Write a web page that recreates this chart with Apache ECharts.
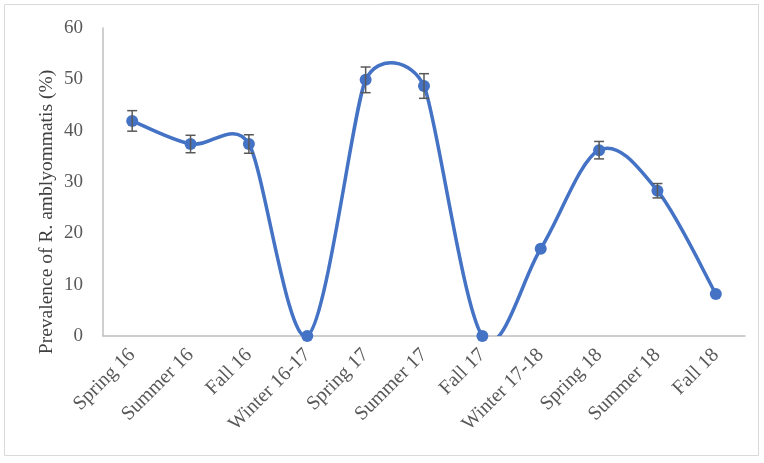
<!DOCTYPE html>
<html>
<head>
<meta charset="utf-8">
<script src="https://cdn.jsdelivr.net/npm/echarts@6/dist/echarts.min.js"></script>
<style>
  html, body { margin: 0; padding: 0; background: #fff; }
  #chart { width: 764px; height: 463px; }
</style>
</head>
<body>
<div id="chart"></div>
<script>
"use strict";

// seasons on the x axis
const seasons = ['Spring 16', 'Summer 16', 'Fall 16', 'Winter 16-17', 'Spring 17', 'Summer 17',
  'Fall 17', 'Winter 17-18', 'Spring 18', 'Summer 18', 'Fall 18'];
// prevalence (%)
const prevalence = [41.9, 37.4, 37.4, 0, 49.9, 48.7, 0, 17.0, 36.2, 28.3, 8.2];
// +/- error
const errors = [2.0, 1.7, 1.8, 0, 2.5, 2.4, 0, 0, 1.7, 1.4, 0];
const yTicks = { min: 0, max: 60, interval: 10 };
const yTitle = 'Prevalence of R. amblyommatis (%)';

const serif = 'Liberation Serif';
const blue = '#4472c4';

var chartElem = document.getElementById('chart');
var chart = echarts.init(chartElem);

function dist(a, b) {
  return Math.sqrt((a[0] - b[0]) * (a[0] - b[0]) + (a[1] - b[1]) * (a[1] - b[1]));
}

// tangent handle at point k, like excel's smoothing (1/6 of the chord, capped at half the shorter side)
function handle(api, k) {
  var n = prevalence.length;
  var pt = function (j) {
    j = Math.max(0, Math.min(n - 1, j));
    return api.coord([j, prevalence[j]]);
  };
  var prev = pt(k - 1), cur = pt(k), next = pt(k + 1);
  var t = [next[0] - prev[0], next[1] - prev[1]];
  var len = Math.sqrt(t[0] * t[0] + t[1] * t[1]) || 1;
  var sides = [];
  if (k > 0) sides.push(dist(prev, cur));
  if (k < n - 1) sides.push(dist(cur, next));
  var h = Math.min(len / 6, Math.min.apply(null, sides) / 2);
  return [t[0] / len * h, t[1] / len * h];
}

function renderCurve(params, api) {
  var i = api.value(0);
  if (i >= prevalence.length - 1) return null;
  var p1 = api.coord([i, prevalence[i]]);
  var p2 = api.coord([i + 1, prevalence[i + 1]]);
  var h1 = handle(api, i), h2 = handle(api, i + 1);
  var cs = params.coordSys;
  return {
    type: 'bezierCurve',
    shape: {
      x1: p1[0], y1: p1[1],
      cpx1: p1[0] + h1[0], cpy1: p1[1] + h1[1],
      cpx2: p2[0] - h2[0], cpy2: p2[1] - h2[1],
      x2: p2[0], y2: p2[1]
    },
    style: { stroke: blue, lineWidth: 3.5, fill: null, lineCap: 'round' },
    clipPath: { type: 'rect', shape: { x: cs.x, y: cs.y - 20, width: cs.width, height: cs.height + 20 } }
  };
}

function renderError(params, api) {
  var i = api.value(0), v = api.value(1), e = api.value(2);
  if (!e) return null;
  var top = api.coord([i, v + e]);
  var bot = api.coord([i, v - e]);
  var hw = 5;
  var style = { stroke: '#595959', lineWidth: 1.5 };
  return {
    type: 'group',
    children: [
      { type: 'line', shape: { x1: top[0], y1: top[1], x2: bot[0], y2: bot[1] }, style: style },
      { type: 'line', shape: { x1: top[0] - hw, y1: top[1], x2: top[0] + hw, y2: top[1] }, style: style },
      { type: 'line', shape: { x1: bot[0] - hw, y1: bot[1], x2: bot[0] + hw, y2: bot[1] }, style: style }
    ]
  };
}

chart.setOption({
  animation: false,
  textStyle: { fontFamily: serif },
  graphic: [{
    type: 'rect',
    shape: { x: 4.5, y: 4.5, width: 754, height: 451 },
    style: { fill: 'none', stroke: '#d9d9d9', lineWidth: 1 },
    z: -1
  }, {
    type: 'text',
    x: 47,
    y: 212,
    rotation: Math.PI / 2,
    style: {
      text: yTitle,
      fill: '#404040',
      font: '19.5px "Liberation Serif"',
      align: 'center',
      verticalAlign: 'middle'
    }
  }],
  grid: {
    left: 103,
    right: 19,
    top: 28,
    bottom: 127
  },
  xAxis: {
    type: 'category',
    data: seasons,
    boundaryGap: true,
    axisTick: { show: false },
    axisLine: { show: true, lineStyle: { color: '#bfbfbf', width: 1.5 } },
    axisLabel: {
      rotate: 45,
      interval: 0,
      color: '#595959',
      fontSize: 20,
      fontFamily: serif,
      margin: 16
    }
  },
  yAxis: {
    type: 'value',
    min: yTicks.min,
    max: yTicks.max,
    interval: yTicks.interval,
    axisLine: { show: true, lineStyle: { color: '#bfbfbf', width: 1.5 } },
    axisTick: { show: false },
    splitLine: { show: false },
    axisLabel: { color: '#595959', fontSize: 19, fontFamily: serif, margin: 20 }
  },
  series: [{
    name: 'Curve',
    type: 'custom',
    data: prevalence.map(function (v, i) { return [i, v]; }),
    renderItem: renderCurve,
    silent: true,
    z: 2
  }, {
    name: 'Prevalence',
    type: 'line',
    data: prevalence,
    symbol: 'circle',
    symbolSize: 12,
    color: blue,
    lineStyle: { width: 0, opacity: 0 },
    itemStyle: { color: blue },
    z: 3
  }, {
    name: 'Error',
    type: 'custom',
    data: prevalence.map(function (v, i) { return [i, v, errors[i]]; }),
    renderItem: renderError,
    z: 4
  }]
});
</script>
</body>
</html>
